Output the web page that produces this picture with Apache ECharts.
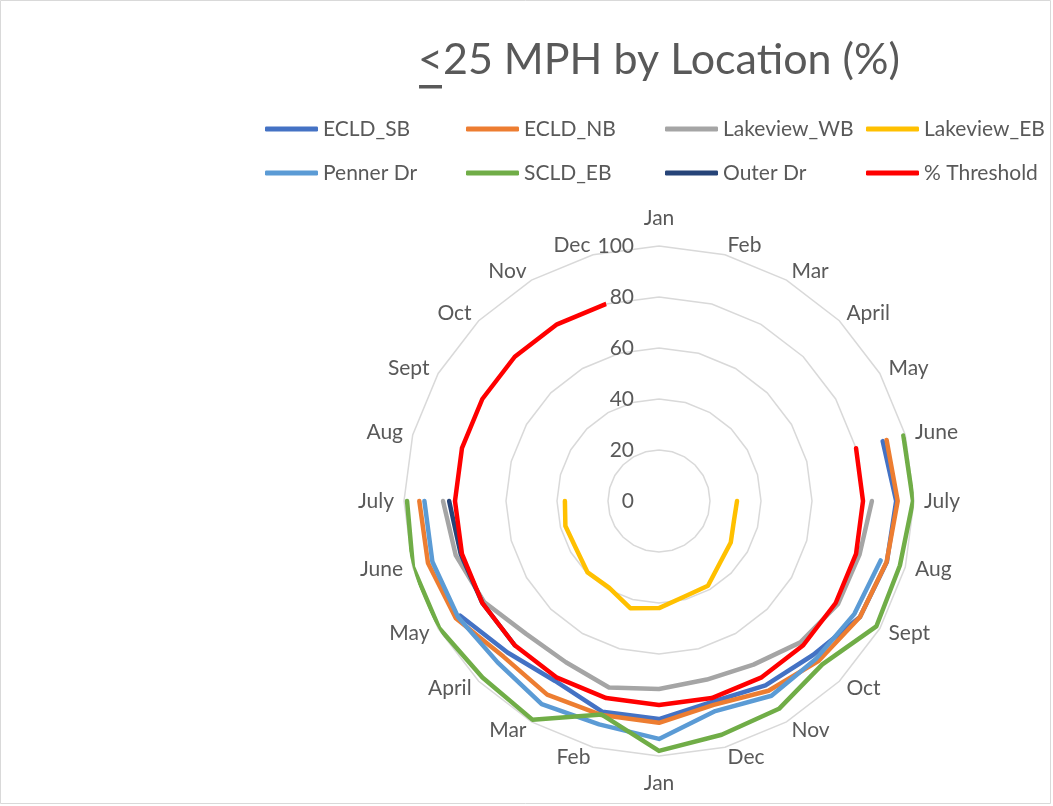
<!DOCTYPE html>
<html><head><meta charset="utf-8">
<script src="https://cdn.jsdelivr.net/npm/echarts@6/dist/echarts.min.js"></script>
<style>html,body{margin:0;padding:0;background:#fff}#c{width:1053px;height:806px}</style>
</head><body><div id="c"></div>
<script>
// ---- data ----
const categories = ['Jan','Feb','Mar','April','May','June','July','Aug','Sept','Oct','Nov','Dec',
                    'Jan','Feb','Mar','April','May','June','July','Aug','Sept','Oct','Nov','Dec'];
const tickValues = [0, 20, 40, 60, 80, 100];
const seriesNames = ['ECLD_SB','ECLD_NB','Lakeview_WB','Lakeview_EB','Penner Dr','SCLD_EB','Outer Dr','% Threshold'];
const seriesColors = ['#4472C4','#ED7D31','#A5A5A5','#FFC000','#5B9BD5','#70AD47','#264478','#FF0000'];
const N = null;
const ecldSB     = [N,N,N,N,N, 90.8,93,92.5,91,85.4,83.5,81.5,85.5,85.6,81.5,84,90, N,N,N,N,N,N,N];
const ecldNB     = [N,N,N,N,N, 92.4,93.6,92.4,91,88.6,85.9,82.8,87,86.9,87.7,86.3,92,93.8,94, N,N,N,N,N];
const lakeviewWB = [N,N,N,N,N,N, 83.5,81.4,81,78.4,74.1,72.5,73.7,75.7,73,73.7,79.2,82.5,84.7, N,N,N,N,N];
const lakeviewEB = [N,N,N,N,N,N, 30.6,30.4,32.5,34,38.4,38.8,42,43.5,39.2,39.6,37.5,38,36.9, N,N,N,N,N];
const pennerDr   = [N,N,N,N,N,N,N, 90,88.5,87.3,88.2,85.3,93.3,90.7,92,89.5,91,92,92, N,N,N,N,N];
const scldEB     = [N,N,N,N,N, 99.2,99.6,97.8,98.4,90.6,94.1,94.9,98,86.7,99.1,97.9,99.6,99.9,98.8, N,N,N,N,N];
const outerDr    = [N,N,N,N,N,N,N,N,N,N,N,N,N,N,N, 80,80,80.5,82.3, N,N,N,N,N];
const threshold  = [N,N,N,N,N, 80,80,80,80,80,80,80,80,80,80,80,80,80,80,80,80,80,80,80];
const seriesValues = [ecldSB, ecldNB, lakeviewWB, lakeviewEB, pennerDr, scldEB, outerDr, threshold];

// ---- layout ----
const CX = 659, CY = 501, R = 255;
const FONT = 'Lato';
const TXT = '#595959';
const TITLE = '<25 MPH by Location (%)';
const TITLE_SIZE = 43;

const ctx = document.createElement('canvas').getContext('2d');
ctx.font = TITLE_SIZE + 'px ' + FONT;
const titleW = ctx.measureText(TITLE).width;
const ltW = ctx.measureText('<').width;
const titleX = CX - titleW / 2;

// radar indicators go counter-clockwise, so feed them reversed after the first
const order = [0].concat(categories.map((_, i) => i).slice(1).reverse());
const indicators = order.map((ci, k) => {
  const ind = { name: categories[ci], min: 0, max: 100 };
  if (ci === 0 || ci === 12) ind.nameGap = 17;
  if (k === 0) ind.axisLabel = { show: true, color: TXT, fontSize: 21, fontFamily: FONT, margin: 25 };
  return ind;
});

const chart = echarts.init(document.getElementById('c'), null, { renderer: 'canvas' });
chart.setOption({
  backgroundColor: '#fff',
  animation: false,
  title: {
    text: TITLE, left: titleX, top: 39, padding: 0,
    textStyle: { fontSize: TITLE_SIZE, fontWeight: 'normal', color: TXT, fontFamily: FONT }
  },
  graphic: [
    { type: 'rect', shape: { x: titleX + 1, y: 85, width: ltW - 2, height: 3.5 }, style: { fill: TXT } },
    { type: 'rect', shape: { x: 0.5, y: 0.5, width: 1050, height: 803 }, style: { fill: 'none', stroke: '#D9D9D9', lineWidth: 1 }, z: -1 }
  ],
  legend: [0, 1, 2, 3].map(k => ({
    orient: 'vertical', left: [265, 466, 665, 866][k], top: 117, padding: 0,
    itemWidth: 53, itemHeight: 5, itemGap: 20, icon: 'roundRect', selectedMode: false,
    data: [seriesNames[k], seriesNames[k + 4]],
    textStyle: { fontSize: 21, color: TXT, fontFamily: FONT, lineHeight: 24 }
  })),
  radar: {
    center: [CX, CY], radius: R, startAngle: 90, shape: 'polygon', splitNumber: 5,
    indicator: indicators,
    axisName: { color: TXT, fontSize: 21, fontFamily: FONT },
    nameGap: 10,
    axisLine: { show: false }, axisTick: { show: false },
    axisLabel: { show: false },
    splitArea: { show: false },
    splitLine: { lineStyle: { color: '#D9D9D9', width: 1.5 } }
  },
  polar: { center: [CX, CY], radius: R },
  angleAxis: { type: 'category', data: categories, startAngle: 90, clockwise: true, boundaryGap: false, show: false },
  radiusAxis: { type: 'value', min: 0, max: 100, interval: 20, show: false },
  series: seriesNames.map((name, i) => ({
    name, type: 'line', coordinateSystem: 'polar',
    data: seriesValues[i], symbol: 'none', connectNulls: false,
    color: seriesColors[i],
    lineStyle: { width: 4.5, color: seriesColors[i], cap: 'round', join: 'round' }
  }))
});
</script>
</body></html>
